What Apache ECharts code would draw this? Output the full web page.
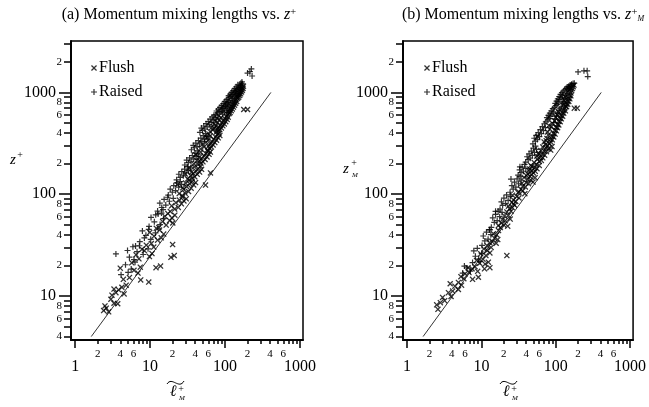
<!DOCTYPE html>
<html>
<head>
<meta charset="utf-8">
<script src="https://cdn.jsdelivr.net/npm/echarts@6/dist/echarts.min.js"></script>
<style>
  html, body { margin: 0; padding: 0; background: #fff; }
  #chart { width: 649px; height: 407px; }
</style>
</head>
<body>
<div id="chart"></div>
<script>
// axis ranges and ticks
const X_MIN = 0.88, X_MAX = 1100;
const Y_MIN = 3.7, Y_MAX = 3200;
const xMajorTicks = [1, 10, 100, 1000];
const xMinorTicks = [2, 3, 4, 5, 6, 7, 8, 9, 20, 30, 40, 50, 60, 70, 80, 90, 200, 300, 400, 500, 600, 700, 800, 900];
const xMinorLabels = [2, 4, 6, 20, 40, 60, 200, 400, 600];
const yMajorTicks = [10, 100, 1000];
const yMinorTicks = [4, 5, 6, 7, 8, 9, 20, 30, 40, 50, 60, 70, 80, 90, 200, 300, 400, 500, 600, 700, 800, 900, 2000, 3000];
const yMinorLabels = [4, 6, 8, 20, 40, 60, 80, 200, 400, 600, 800, 2000];

// reference line z+ = l/kappa
const kappaLine = [[1.64, 4], [410, 1000]];

// (a) vs z+
const flushA = [
  [2.4,7.2],[2.5,8.0],[2.6,7.6],[3.0,9.3],[3.3,8.5],[3.7,8.4],[2.8,7.0],[3.3,11.7],[3.5,10.8],[3.8,11.5],
  [4.2,12.2],[4.5,10.5],[3.1,10.2],[4.8,12.8],[7.5,14.4],[9.6,13.7],[12,19],[13.8,19.7],[19,24],[21,25],[20,32],
  [4.4,14.6],[6.9,16.8],[5.3,15.2],[7.4,19.2],[6.1,17.9],[4.0,18.8],[5.7,21.2],
  [7.1,23.2],[9.8,24.4],[8.4,27.9],[10.6,26.1],[6.5,25.4],[11.2,30.3],[8.9,31.6],[7.8,28.8],
  [10.4,32.8],[12.6,35.4],[11.3,38.7],[14.1,37.3],[9.9,42.2],[13.4,44.5],[15.2,40.6],[12.1,46.3],
  [13.1,47.1],[16.4,49.8],[14.7,53.9],[18.2,55.1],[15.8,60.7],[19.6,58.4],[17.3,64.6],[21.4,62.3],[20.1,52.2],
  [18.6,67.8],[21.3,71.5],[19.4,76.9],[23.8,74.2],[22.1,82.7],[26.2,80.5],[24.6,87.6],[28.3,85.9],[27.1,93.8],[30.4,90.2],
  [26.8,97.1],[29.4,102.3],[28.1,111.8],[32.6,106.4],[30.7,119.1],[35.3,114.7],[33.8,126.8],[38.2,123.3],[36.4,133.9],[40.5,130.2],[55,123],
  [33.2,137.6],[36.5,143.1],[34.9,152.8],[39.4,148.5],[37.8,160.2],[42.6,156.7],[40.9,169.4],[45.8,165.1],[44.1,178.3],[48.7,175.6],[47.2,188.4],[64,162],
  [43.8,195.4],[47.6,201.3],[45.9,212.7],[50.8,207.9],[48.7,224.6],[54.2,219.3],[52.3,237.8],[57.6,232.1],[55.4,251.2],[61.3,246.4],[59.1,264.5],[63.8,259.7],
  [58.2,272.6],[62.4,281.9],[60.3,296.8],[65.9,290.4],[63.7,312.2],[69.4,305.3],[67.1,328.7],[73.2,321.5],[70.8,346.9],[77.1,339.6],[74.6,365.3],[81.2,357.8],[78.5,384.6],[85.4,376.9],[83.1,397.2],
  [76.4,408.2],[81.6,418.7],[79.2,436.5],[85.3,429.9],[82.8,455.3],[89.4,448.1],[86.9,476.2],[93.6,469.8],[91.1,498.6],[97.9,490.3],[95.2,524.1],[102.4,515.7],[99.6,551.9],[106.8,543.2],[104.1,579.4],[110.3,571.6],
  [108.6,606.8],[113.9,619.5],[111.4,641.7],[117.3,634.2],[114.8,668.9],[121.2,661.4],[118.6,697.3],[125.4,688.2],[122.7,726.8],[129.6,718.1],[126.9,758.4],[134.1,749.7],[131.3,791.2],[138.7,782.5],[135.9,826.3],[143.2,815.8],[178,680],[200,680],
  [140.5,858.3],[147.2,872.6],[144.6,905.4],[152.3,897.1],[149.8,941.8],[157.1,933.6],[154.5,979.2],[161.6,968.4],[159.2,1018.7],[166.3,1009.3],[163.8,1061.5],[170.4,1052.8],[168.7,1106.3],[174.2,1098.1],[176.3,1152.7],
  [24.5,101.4],[27.3,115.6],[23.2,124.2],[29.8,128.7],[31.8,141.2],[29.5,158.4],[35.7,164.3],[33.4,180.5],[38.9,186.2],
  [38.6,198.5],[42.1,213.4],[45.2,229.8],[40.7,244.6],[47.4,259.2],[47.3,278.5],[52.6,291.3],[50.4,309.6],[56.2,324.8],
  [59.8,341.5],[57.3,361.2],[63.5,372.4],[61.1,389.7],[63.2,412.8],[68.7,428.4],[72.1,444.6],[66.4,452.9],[75.8,471.5],
  [70.9,487.6],[79.4,502.3],[74.6,523.8],[84.3,538.9],[78.9,556.1],[88.5,568.7],[82.6,589.4]
];
const raisedA = [
  [3.5,25.9],[5.0,28],[6.4,31],
  [4.1,16.2],[5.6,18.4],[4.7,20.3],[6.3,21.5],[5.1,17.1],
  [5.3,24.1],[6.7,27.3],[5.9,30.5],[8.1,25.6],[7.2,31.2],[6.1,22.8],[9.4,29.1],
  [7.3,34.2],[8.8,39.5],[7.9,43.6],[10.2,36.1],[9.6,45.1],[11.8,41.7],[8.4,37.2],
  [9.7,48.3],[11.4,53.6],[10.3,59.2],[12.8,64.1],[13.6,50.4],[11.9,62.8],[15.1,57.5],[14.2,65.3],
  [12.6,68.4],[14.3,74.1],[13.5,81.6],[16.2,78.2],[15.4,88.9],[18.1,85.3],[17.2,93.4],[20.4,91.1],[14.9,70.7],
  [17.5,98.2],[19.8,104.6],[18.6,112.5],[21.9,108.3],[20.7,121.4],[24.1,117.6],[22.8,129.5],[26.3,125.1],[25.2,133.2],
  [22.6,138.4],[25.3,146.2],[24.2,157.1],[27.8,151.6],[26.5,166.4],[30.2,162.3],[28.9,176.8],[32.6,171.2],[31.4,186.5],[34.8,182.1],
  [29.1,193.7],[32.4,204.2],[30.8,216.5],[35.2,210.8],[33.7,227.4],[38.3,221.6],[36.6,240.1],[41.2,234.5],[39.8,253.8],[44.5,248.2],[42.7,266.1],
  [35.6,273.4],[39.1,286.2],[37.7,301.5],[42.4,294.7],[40.8,318.3],[45.9,311.6],[44.2,336.8],[49.4,329.1],[47.6,355.2],[53.1,347.4],[51.3,375.6],[56.8,368.2],[54.9,394.3],
  [46.3,405.1],[50.2,423.6],[48.4,446.8],[53.9,437.3],[52.1,468.2],[57.8,459.4],[55.9,492.7],[61.6,483.1],[59.7,518.4],[65.5,507.6],[63.4,546.3],[69.6,535.2],[67.3,574.8],[73.8,562.4],[71.2,596.5],
  [75.3,604.2],[79.6,628.7],[77.2,656.9],[83.9,645.3],[81.4,684.6],[88.3,672.1],[85.7,713.8],[92.8,701.5],[90.1,745.2],[97.4,732.6],[94.7,778.3],[102.2,765.9],[99.3,812.6],[107.1,799.4],[104.2,846.7],
  [109.3,862.1],[114.6,893.4],[112.1,928.7],[119.8,915.6],[117.2,962.3],[125.3,951.8],[122.6,1001.5],[131.2,989.4],[128.4,1043.7],[137.4,1031.2],[134.5,1088.6],[143.8,1076.3],[141.2,1136.4],[150.6,1124.8],[148.3,1187.2],[157.4,1175.9],[163.1,1232.6],[171.2,1214.3],[168.4,1268.5],
  [93.1,611.5],[98.6,637.2],[90.7,652.4],[103.8,668.3],[96.2,694.8],[108.4,707.6],[101.5,729.3],[113.7,741.8],[106.3,769.5],[118.9,788.1],[111.8,806.4],[123.6,831.7],
  [125.6,868.9],[131.7,902.5],[136.4,939.1],[142.2,972.8],[139.1,1012.4],[147.5,1046.3],[153.6,1083.7],[158.9,1117.5],[161.4,1158.2],[166.7,1189.6],
  [200,1550],[215,1600],[230,1450],[225,1700]
];

// (b) vs z+_M
const flushB = [
  [2.6,7.4],[2.5,8.2],[3.0,9.7],[3.2,9.0],[3.9,9.9],[3.6,10.8],[2.8,8.6],[4.9,11.6],[4.4,12.5],[4.9,13.6],[4.1,11.2],[5.4,12.8],[3.8,13.2],
  [5.3,15.5],[6.0,16.5],[6.8,17],[7.5,18.5],[8.2,19.4],[8.9,17.5],[7.6,14.6],[9.1,15.3],[5.8,14.8],[6.6,19],[13,19],[11,18.5],
  [9.5,21],[10.5,23],[9.8,26],[11.5,25],[12,28],[12.4,21.5],[10.8,29],[13,26.5],[8.6,22.4],[11.2,20.6],[22,25],
  [12,31],[13.5,30],[14,34],[15,37],[14.5,41],[16,40],[17,44],[15.8,33],[12.9,33.5],[16.6,35.9],
  [18,47],[18.5,52],[20,50],[21,55],[24.4,57],[20.5,61],[23,62],[22,67],[25,68],[19.2,56.3],[16.9,49.2],[22.6,48.6],
  [24,72],[26,74],[27,80],[28,78],[27,88],[29,85],[30,95],[32,92],[23.1,76.3],[25.6,83.1],[26.2,97.8],
  [32,105],[34,112],[36,108],[36,120],[39,118],[40,130],[43,127],[42,140],[46,138],[45,150],[38.4,101.2],[49.5,131.6],[52.8,145.3],
  [47,155],[50,162],[48,170],[53,168],[52,182],[56,178],[55,196],[60,192],[42.3,158.1],[44.7,176.5],[46.2,191.8],
  [60,210],[64,215],[62,230],[67,228],[66,248],[71,242],[70,265],[75,262],[74,285],[80,280],[78,300],[56.4,221.3],[58.8,254.7],[85.6,271.4],[89.2,293.8],
  [57,370],[82,315],[86,325],[85,345],[90,342],[89,370],[94,365],[93,395],[98,390],[97,425],[102,420],[101,455],[106,450],[105,485],[110,480],[74.5,336.1],[77.8,408.3],[80.9,472.6],
  [110,520],[115,515],[114,555],[119,550],[118,590],[124,585],[123,630],[128,625],[127,665],[135,660],[132,698],[96.7,528.3],[100.4,571.8],[104.9,604.5],[108.2,648.7],
  [178,700],[195,700],[136,730],[140,725],[139,770],[145,765],[144,820],[150,815],[149,870],[155,865],[154,930],[160,925],[160,985],[126.3,752.1],[130.7,836.4],[134.2,903.7],
  [164,1040],[168,1090],[172,1140],[176,1180],[145.8,1017.2],[152.6,1058.3],[159.4,1101.6],
  [31.2,103.5],[35.1,128.2],[37.6,146.1],[40.3,152.6],[43.6,170.3],[47.8,187.2],
  [51.4,204.8],[55.8,236.4],[59.6,246.3],[63.2,268.6],[66.9,291.4],
  [72.8,306.1],[76.3,352.8],[79.5,381.9],[83.4,436.2],[87.2,462.6],[90.6,495.3],[69.8,326.7]
];
const raisedB = [
  [13,45],[15.5,68],[25,141],[33,186],
  [5.6,16.8],[6.4,18.9],[7.1,17.6],[5.9,19.7],
  [7.6,21.3],[8.3,24.6],[7.9,27.8],[9.2,23.1],[8.8,29.4],[10.1,26.2],[9.6,21.9],
  [10.2,31.4],[11.1,34.8],[10.6,38.9],[12.3,36.2],[11.7,42.5],[13.4,40.1],[12.8,44.6],
  [13.6,47.3],[14.9,52.8],[14.2,58.6],[16.3,55.1],[15.5,63.4],[17.6,60.2],[16.8,68.1],[18.9,66.2],
  [17.8,71.4],[19.3,77.6],[18.6,84.3],[21.2,80.9],[20.1,91.6],[22.9,87.2],[21.8,98.4],[24.5,95.1],
  [24.3,104.6],[26.8,112.3],[25.7,121.5],[29.1,117.2],[27.9,131.4],[31.6,126.8],[30.2,141.7],[34.3,137.2],[33.1,148.9],
  [31.2,154.3],[34.1,162.8],[32.7,173.6],[36.8,168.1],[35.3,184.9],[39.6,179.4],[38.1,196.2],
  [39.4,206.3],[42.6,218.7],[41.2,233.5],[45.3,226.1],[43.8,248.6],[48.5,241.2],[46.9,265.3],[51.7,257.4],[50.1,283.2],[55.2,275.6],[53.4,297.1],
  [49.3,312.4],[53.2,331.6],[51.4,354.7],[56.6,344.2],[54.7,378.5],[60.3,368.4],[58.2,404.1],[64.1,393.8],[62.2,431.6],[68.3,421.2],[66.1,461.4],[72.6,450.8],[70.4,492.3],
  [73.6,514.2],[78.4,538.6],[76.2,566.3],[81.9,552.4],[79.8,595.7],[85.7,582.9],[83.4,626.1],[89.6,613.5],[87.2,658.4],[93.8,645.2],[91.3,692.6],
  [96.2,712.4],[100.8,743.6],[98.7,781.2],[104.5,764.9],[102.6,822.3],[108.9,805.1],[106.8,864.7],[113.4,848.2],[111.3,908.6],[118.2,892.4],[116.1,955.3],[123.4,938.7],[121.2,993.6],
  [126.7,1028.3],[132.4,1061.5],[138.2,1094.8],[142.6,1132.1],[149.3,1146.5],[156.1,1183.7],[163.4,1204.2],[171.2,1226.5],[178,1230],
  [94.6,506.4],[98.5,547.8],[102.3,589.1],[106.5,622.7],[110.7,667.9],[113.9,691.2],
  [118.7,718.6],[123.2,781.4],[127.6,812.5],[131.9,871.4],[136.2,936.8],[140.8,968.3],
  [145.4,1081.6],[152.8,1117.3],[160.6,1162.5],
  [200,1590],[240,1630],[265,1630],[270,1430]
];

const SERIF = '"Liberation Serif", "Times New Roman", serif';
const CROSS = 'path://M0,1.5L1.5,0L5,3.5L8.5,0L10,1.5L6.5,5L10,8.5L8.5,10L5,6.5L1.5,10L0,8.5L3.5,5Z';
const PLUS = 'path://M4,0H6V4H10V6H6V10H4V6H0V4H4Z';

const grids = [
  { left: 71, top: 41, width: 232, height: 299 },
  { left: 403, top: 41, width: 234, height: 299 }
];

function digit(v) { return String(Math.round(v)).charAt(0); }
function plain(v) { return String(Math.round(v)); }

function xAxes(gi) {
  const line = { show: true, lineStyle: { color: '#000', width: 1.5 } };
  return [
    { type: 'log', gridIndex: gi, min: X_MIN, max: X_MAX, axisLine: line,
      axisTick: { show: true, length: 8, customValues: xMajorTicks, lineStyle: { color: '#000', width: 1.5 } },
      axisLabel: { customValues: xMajorTicks, formatter: plain, color: '#000', fontFamily: SERIF, fontSize: 16, margin: 19 },
      splitLine: { show: false } },
    { type: 'log', gridIndex: gi, min: X_MIN, max: X_MAX, position: 'bottom', axisLine: line,
      axisTick: { show: true, length: 4, customValues: xMinorTicks, lineStyle: { color: '#000', width: 1.5 } },
      axisLabel: { customValues: xMinorLabels, formatter: digit, color: '#000', fontFamily: SERIF, fontSize: 11, margin: 9 },
      splitLine: { show: false } }
  ];
}
function yAxes(gi) {
  const line = { show: true, lineStyle: { color: '#000', width: 1.5 } };
  return [
    { type: 'log', gridIndex: gi, min: Y_MIN, max: Y_MAX, axisLine: line,
      axisTick: { show: true, length: 12, customValues: yMajorTicks, lineStyle: { color: '#000', width: 1.5 } },
      axisLabel: { customValues: yMajorTicks, formatter: plain, color: '#000', fontFamily: SERIF, fontSize: 16, margin: 15 },
      splitLine: { show: false } },
    { type: 'log', gridIndex: gi, min: Y_MIN, max: Y_MAX, position: 'left', axisLine: line,
      axisTick: { show: true, length: 7, customValues: yMinorTicks, lineStyle: { color: '#000', width: 1.5 } },
      axisLabel: { customValues: yMinorLabels, formatter: digit, color: '#000', fontFamily: SERIF, fontSize: 11, margin: 9 },
      splitLine: { show: false } }
  ];
}

function seriesFor(gi, flush, raised) {
  const ax = gi * 2;
  return [
    { name: 'Flush', type: 'scatter', xAxisIndex: ax, yAxisIndex: ax, data: flush,
      symbol: CROSS, symbolSize: 6, itemStyle: { color: '#000' }, silent: true },
    { name: 'Raised', type: 'scatter', xAxisIndex: ax, yAxisIndex: ax, data: raised,
      symbol: PLUS, symbolSize: 6, itemStyle: { color: '#000' }, silent: true },
    { name: 'kappa', type: 'line', xAxisIndex: ax, yAxisIndex: ax, data: kappaLine,
      symbol: 'none', lineStyle: { color: '#000', width: 0.8 }, silent: true }
  ];
}

function legendAt(left) {
  return {
    data: ['Flush', 'Raised'], orient: 'vertical', left: left, top: 55, itemGap: 8,
    itemWidth: 6, itemHeight: 6,
    textStyle: { fontFamily: SERIF, fontSize: 16, color: '#000', padding: [0, 0, 0, -3] },
    selectedMode: false
  };
}

function titleText(x, label, sub) {
  return {
    type: 'text', x: x, y: 15,
    style: {
      text: '{t|' + label + ' Momentum mixing lengths vs. }{i|z}' + (sub ? '{s|+}{m|M}' : '{s|+}'),
      rich: {
        t: { fontFamily: SERIF, fontSize: 16, fill: '#000' },
        i: { fontFamily: SERIF, fontSize: 16, fontStyle: 'italic', fill: '#000' },
        s: { fontFamily: SERIF, fontSize: 11, fill: '#000', verticalAlign: 'top', padding: [0, 0, 6, 0] },
        m: { fontFamily: SERIF, fontSize: 8, fontStyle: 'italic', fill: '#000', padding: [8, 0, 0, 0] }
      },
      textAlign: 'center', textVerticalAlign: 'middle'
    }
  };
}

function txt(x, y, s, size, italic) {
  return { type: 'text', x: x, y: y, style: { text: s, fontFamily: SERIF, fontSize: size,
    fontStyle: italic ? 'italic' : 'normal', fill: '#000', textAlign: 'center', textVerticalAlign: 'middle' } };
}
function lName(cx) {
  return [
    txt(cx, 392, 'ℓ', 16, true),
    txt(cx + 8, 389, '+', 10, false),
    txt(cx + 9, 398, 'M', 7, true),
    { type: 'bezierCurve', shape: { x1: cx - 6, y1: 384, cpx1: cx - 1, cpy1: 376, cpx2: cx + 6, cpy2: 390, x2: cx + 11, y2: 381 },
      style: { stroke: '#000', lineWidth: 1, fill: null } }
  ];
}

const chart = echarts.init(document.getElementById('chart'), null, { renderer: 'canvas' });
chart.setOption({
  animation: false,
  backgroundColor: '#fff',
  grid: grids.map(g => Object.assign({ show: true, borderColor: '#000', borderWidth: 1.5, backgroundColor: 'transparent' }, g)),
  xAxis: xAxes(0).concat(xAxes(1)),
  yAxis: yAxes(0).concat(yAxes(1)),
  legend: [legendAt(86), legendAt(419)],
  series: seriesFor(0, flushA, raisedA).concat(seriesFor(1, flushB, raisedB)),
  graphic: [
    titleText(179, '(a)', false),
    titleText(523, '(b)', true),
    txt(13, 160, 'z', 15, true), txt(20, 155, '+', 10, false),
    txt(346, 169, 'z', 15, true), txt(354, 163, '+', 10, false), txt(355, 175, 'M', 7, true)
  ].concat(lName(173), lName(506))
});
</script>
</body>
</html>
